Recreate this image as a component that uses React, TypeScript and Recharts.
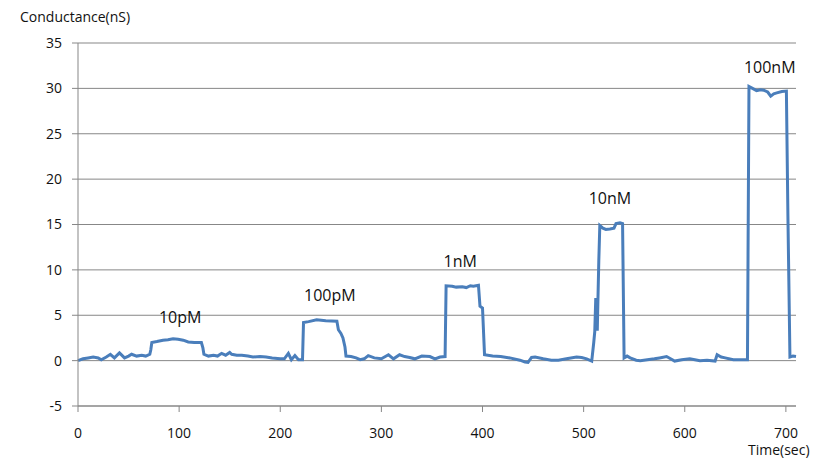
import React from 'react'
import { LineChart, Line, XAxis, YAxis, CartesianGrid, ReferenceDot } from 'recharts'

// time (sec) and conductance (nS)
const times = [
  0, 5, 10, 15, 20, 23, 28, 32, 36, 41, 46, 50, 53, 58, 63, 67, 71, 72, 73, 78,
  84, 89, 94, 99, 104, 109, 115, 122, 123.5, 124.5, 129, 134, 138, 142, 146, 150, 152, 157, 162, 168,
  173, 180, 186, 192, 200, 204, 208, 211, 214.5, 218, 222, 223, 228, 236, 245, 256, 257.5, 260, 262, 264,
  265, 270, 275, 279, 283, 287, 293, 300, 307, 312, 318, 323, 328, 333, 340, 348, 353, 358, 363, 364,
  370, 374, 380, 384, 388, 391, 396, 397.5, 400, 402, 410, 418, 427, 437, 442, 445, 448.5, 452, 460, 468,
  475, 483, 493, 498, 503, 508, 510, 511, 512, 512.5, 513, 513.5, 514, 515, 516, 519, 522, 526, 530, 532,
  536, 538.5, 540, 543, 546, 552, 556, 563, 570, 575, 582, 586, 590, 597, 605, 610, 615, 622, 630, 632,
  636, 640, 648, 655, 662, 663.5, 667, 671, 675, 678, 682, 685, 688, 691, 696, 700.5, 702, 704, 707, 710,
]
const conductance = [
  0.0, 0.2, 0.3, 0.4, 0.3, 0.1, 0.4, 0.7, 0.3, 0.85, 0.3, 0.5, 0.7, 0.5, 0.6, 0.5, 0.7, 1.2, 2.0, 2.1,
  2.25, 2.3, 2.42, 2.35, 2.25, 2.05, 2.0, 2.0, 1.4, 0.7, 0.5, 0.6, 0.5, 0.8, 0.6, 0.9, 0.7, 0.6, 0.6, 0.5,
  0.4, 0.45, 0.4, 0.3, 0.2, 0.2, 0.8, 0.1, 0.55, 0.1, 0.1, 4.2, 4.3, 4.5, 4.4, 4.35, 3.4, 3.0, 2.5, 1.5,
  0.5, 0.45, 0.3, 0.1, 0.2, 0.55, 0.3, 0.2, 0.65, 0.2, 0.65, 0.45, 0.35, 0.2, 0.5, 0.45, 0.2, 0.4, 0.45, 8.25,
  8.2, 8.1, 8.15, 8.05, 8.25, 8.2, 8.3, 6.0, 5.8, 0.65, 0.5, 0.45, 0.3, 0.05, -0.15, -0.2, 0.35, 0.4, 0.2, 0.05,
  0.05, 0.2, 0.4, 0.35, 0.2, -0.05, 2.0, 3.2, 6.9, 3.5, 6.5, 3.3, 6.0, 11.0, 14.9, 14.6, 14.45, 14.5, 14.6, 15.1,
  15.2, 15.1, 0.3, 0.5, 0.3, 0.05, 0.0, 0.1, 0.2, 0.3, 0.45, 0.2, -0.05, 0.1, 0.2, 0.1, 0.0, 0.05, -0.05, 0.65,
  0.4, 0.3, 0.1, 0.1, 0.1, 30.2, 30.0, 29.75, 29.85, 29.8, 29.6, 29.15, 29.4, 29.5, 29.65, 29.7, 16, 0.4, 0.5, 0.45,
]

const xTicks = [0, 100, 200, 300, 400, 500, 600, 700]
const yTicks = [-5, 0, 5, 10, 15, 20, 25, 30, 35]

// concentration labels, placed in data coordinates
const labelNames = ['10pM', '100pM', '1nM', '10nM', '100nM']
const labelTimes = [101, 249, 378, 526, 684]
const labelValues = [4.74, 7.17, 10.9, 17.9, 32.3]

const data = times.map((t, i) => ({ t, v: conductance[i] }))

const font = '"Open Sans", "Noto Sans", sans-serif'
const gridColor = '#878787'
const lineColor = '#4a7ebb'

export default function App() {
  return (
    <div style={{ position: 'absolute', left: 0, top: 0, width: 833, height: 462, background: '#fff', overflow: 'hidden', fontFamily: font }}>
      <div style={{ position: 'absolute', left: 20, top: 7, fontSize: 14, color: '#111' }}>Conductance(nS)</div>
      <div style={{ position: 'absolute', left: 748, top: 441, fontSize: 14, lineHeight: '18px', color: '#111' }}>Time(sec)</div>
      <LineChart width={833} height={462} data={data} margin={{ top: 43, right: 37, bottom: 0, left: 0 }}>
        <CartesianGrid vertical={false} stroke={gridColor} strokeWidth={1} />
        <XAxis
          dataKey="t"
          type="number"
          domain={[0, 710]}
          ticks={xTicks}
          height={56}
          tickSize={6}
          tickMargin={16}
          axisLine={{ stroke: gridColor }}
          tickLine={{ stroke: gridColor }}
          tick={{ fontSize: 14, fill: '#111', fontFamily: font }}
        />
        <YAxis
          type="number"
          domain={[-5, 35]}
          ticks={yTicks}
          width={78}
          tickSize={6}
          tickMargin={10}
          axisLine={{ stroke: gridColor }}
          tickLine={{ stroke: gridColor }}
          tick={{ fontSize: 14, fill: '#111', fontFamily: font }}
        />
        <Line
          type="linear"
          dataKey="v"
          stroke={lineColor}
          strokeWidth={3}
          dot={false}
          isAnimationActive={false}
        />
        {labelNames.map((name, i) => (
          <ReferenceDot
            key={name}
            x={labelTimes[i]}
            y={labelValues[i]}
            r={0}
            fill="none"
            stroke="none"
            ifOverflow="visible"
            label={{ value: name, position: 'center', fontSize: 16, fill: '#111', fontFamily: font }}
          />
        ))}
      </LineChart>
    </div>
  )
}
